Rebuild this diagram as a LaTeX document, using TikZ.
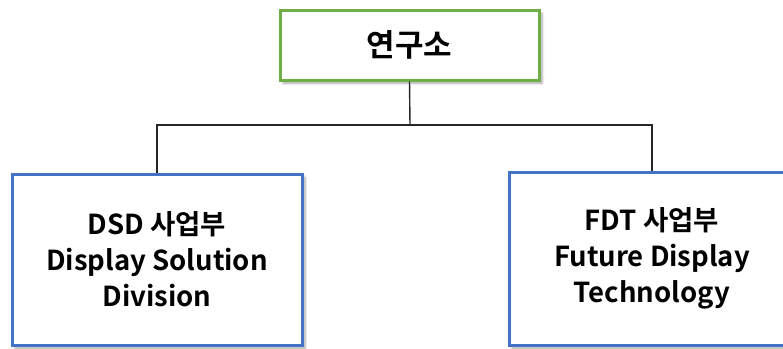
\documentclass[tikz,border=0pt]{standalone}
\usepackage{fontspec}
\setmainfont{Noto Sans CJK KR}[BoldFont={* Bold}]
\usetikzlibrary{shadows.blur}
\definecolor{boxgreen}{RGB}{112,173,71}
\definecolor{boxblue}{RGB}{68,114,196}
\tikzset{
  x=1pt,y=-1pt,
  orgbox/.style={draw, line width=3pt, fill=white, inner sep=0pt, align=center,
    font=\bfseries\fontsize{27.5}{36}\selectfont,
    blur shadow={shadow xshift=3pt, shadow yshift=-3pt, shadow blur steps=6, shadow blur radius=2.5pt, shadow opacity=35}},
  link/.style={draw=black!85, line width=1.4pt},
}
\begin{document}
\begin{tikzpicture}
\useasboundingbox (0,0) rectangle (783,348);
\clip (0,0) rectangle (783,348);
\node[orgbox, draw=boxgreen, minimum width=259pt, minimum height=70pt, font=\bfseries\fontsize{31}{36}\selectfont] (top) at (409.5,45) {연구소};
\node[orgbox, draw=boxblue, minimum width=290pt, minimum height=171pt] (dsd) at (157,259.5) {DSD 사업부\\Display Solution\\Division};
\node[orgbox, draw=boxblue, minimum width=286pt, minimum height=173pt] (fdt) at (652,258.5) {FDT 사업부\\Future Display\\Technology};
\coordinate (j) at (410,125);
\draw[link] (top.south) -- (j);
\draw[link] (j) -| (dsd.north);
\draw[link] (j) -| (fdt.north);
\end{tikzpicture}
\end{document}
